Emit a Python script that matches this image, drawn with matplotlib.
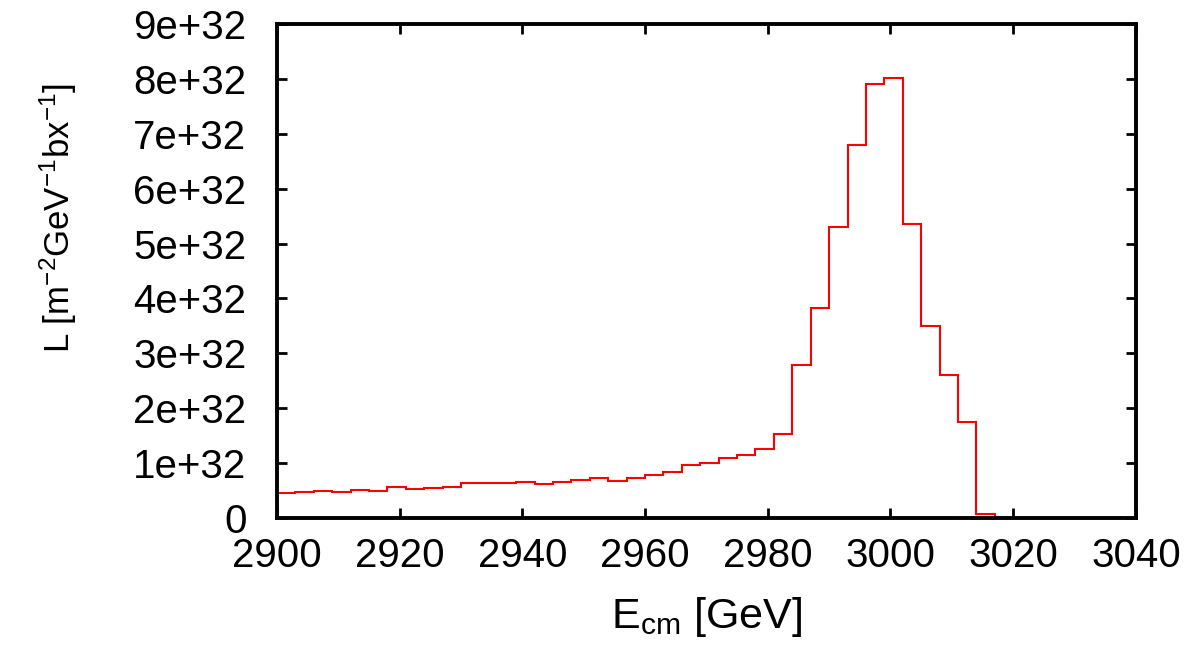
import numpy as np
import matplotlib.pyplot as plt
from matplotlib.ticker import FuncFormatter, MultipleLocator

plt.rcParams['font.family'] = ['Liberation Sans', 'DejaVu Sans']
plt.rcParams['mathtext.fontset'] = 'custom'
plt.rcParams['mathtext.rm'] = 'Liberation Sans'
plt.rcParams['mathtext.it'] = 'Liberation Sans'
plt.rcParams['mathtext.default'] = 'regular'

# ---- data: luminosity spectrum, 3 GeV bins starting at 2900 GeV ----
bin_start = 2900
bin_width = 3
lumi = [0.46, 0.47, 0.49, 0.47, 0.51, 0.50, 0.57, 0.52, 0.55, 0.57,
        0.64, 0.64, 0.64, 0.66, 0.62, 0.66, 0.70, 0.73, 0.67, 0.72,
        0.78, 0.84, 0.965, 1.01, 1.09, 1.14, 1.25, 1.53, 2.79, 3.82,
        5.31, 6.79, 7.91, 8.02, 5.36, 3.49, 2.60, 1.75, 0.07, 0.0]
lumi = np.array(lumi) * 1e32
edges = bin_start + bin_width * np.arange(len(lumi) + 1)

fig = plt.figure(figsize=(12.02, 6.51), dpi=100)
ax = fig.add_axes([0.2304, 0.2043, 0.945 - 0.2304, 0.963 - 0.2043])

ax.stairs(lumi, edges, baseline=None, color='red', linewidth=1.5)

ax.set_xlim(2900, 3040)
ax.set_ylim(0, 9e32)
ax.xaxis.set_major_locator(MultipleLocator(20))
ax.yaxis.set_major_locator(MultipleLocator(1e32))
ax.yaxis.set_major_formatter(FuncFormatter(
    lambda v, p: "0" if v == 0 else f"{v/1e32:.0f}e+32"))

ax.tick_params(direction='in', length=7, width=2, labelsize=29,
               top=True, right=True)
ax.tick_params(axis='y', pad=22)
ax.tick_params(axis='x', pad=14)
for s in ax.spines.values():
    s.set_linewidth(2.8)

ax.set_xlabel(r"E$_{cm}$ [GeV]", fontsize=31)
ax.set_ylabel(r"L [m$^{-2}$GeV$^{-1}$bx$^{-1}$]", fontsize=25)
ax.xaxis.set_label_coords(0.5, -0.155)
ax.yaxis.set_label_coords(-0.23, 0.607)

fig.savefig("out.png", dpi=100)
